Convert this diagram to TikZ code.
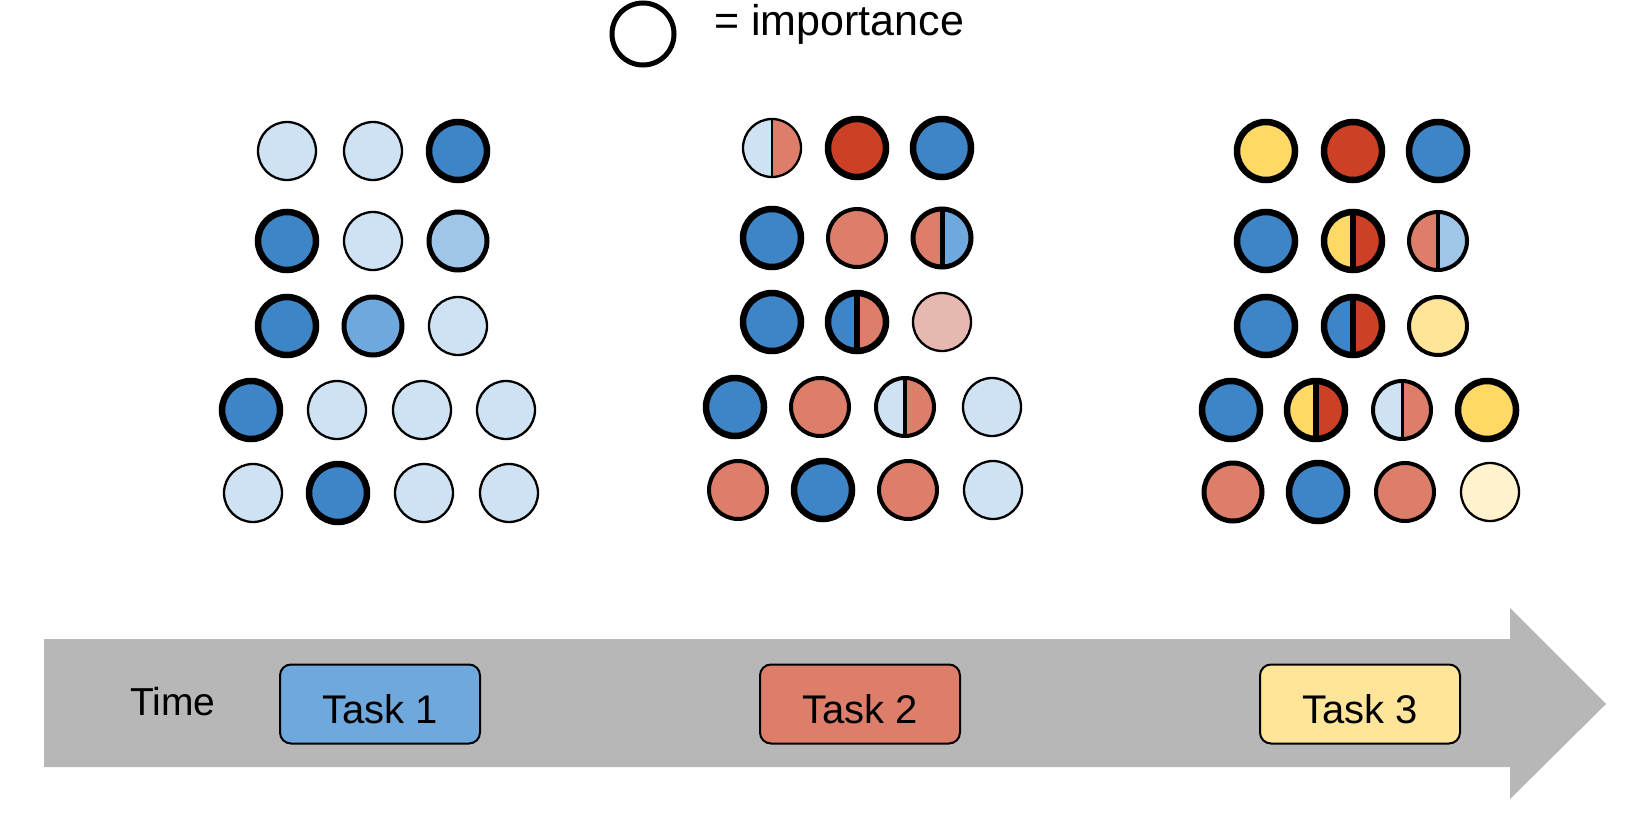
\documentclass[tikz,border=0pt]{standalone}
\usepackage{fontspec}
\setmainfont{Liberation Sans}
\definecolor{lbA}{HTML}{CFE2F3}
\definecolor{lbB}{HTML}{9FC5E8}
\definecolor{lbC}{HTML}{6FA8DC}
\definecolor{bl}{HTML}{3D85C6}
\definecolor{rd}{HTML}{CC4125}
\definecolor{sal}{HTML}{DD7E6B}
\definecolor{lsal}{HTML}{E6B8AF}
\definecolor{yA}{HTML}{FFD966}
\definecolor{yB}{HTML}{FFE599}
\definecolor{yC}{HTML}{FFF2CC}
\definecolor{barg}{HTML}{B7B7B7}
\begin{document}
\begin{tikzpicture}[x=1bp,y=-1bp,
 dot/.style={circle,draw=black,minimum size=58bp,inner sep=0pt},
 wA/.style={line width=2.3bp},
 wB/.style={line width=4bp},
 wC/.style={line width=5bp},
 wD/.style={line width=6.5bp},
 half/.style n args={3}{path picture={
   \fill[#1] (path picture bounding box.south west) rectangle (path picture bounding box.north);
   \fill[#2] (path picture bounding box.north) rectangle (path picture bounding box.south east);
   \draw[line width=#3] (path picture bounding box.north) -- (path picture bounding box.south);}},
 task/.style={draw=black,line width=2bp,rounded corners=11bp,minimum width=200bp,minimum height=79bp,inner sep=0pt,font=\fontsize{40bp}{46bp}\selectfont,text height=39bp,text depth=0bp},
 lbl/.style={font=\fontsize{39bp}{46bp}\selectfont,inner sep=0pt}
]
\useasboundingbox (0,0) rectangle (1630,832);

% legend
\node[circle,draw=black,line width=5bp,minimum size=62bp,inner sep=0pt] (leg) at (643,34) {};
\node[anchor=base west,inner sep=0pt,font=\fontsize{43bp}{50bp}\selectfont] (legt) at (714,35) {= importance};

% group 1
\node[dot,wA,fill=lbA] (a11) at (287,151) {};
\node[dot,wA,fill=lbA] (a12) at (373,151) {};
\node[dot,wD,fill=bl]  (a13) at (458,151) {};
\node[dot,wD,fill=bl]  (a21) at (287,241) {};
\node[dot,wA,fill=lbA] (a22) at (373,241) {};
\node[dot,wC,fill=lbB] (a23) at (458,241) {};
\node[dot,wD,fill=bl]  (a31) at (287,326) {};
\node[dot,wC,fill=lbC] (a32) at (373,326) {};
\node[dot,wA,fill=lbA] (a33) at (458,326) {};
\node[dot,wD,fill=bl]  (a41) at (251,410) {};
\node[dot,wA,fill=lbA] (a42) at (337,410) {};
\node[dot,wA,fill=lbA] (a43) at (422,410) {};
\node[dot,wA,fill=lbA] (a44) at (506,410) {};
\node[dot,wA,fill=lbA] (a51) at (253,493) {};
\node[dot,wD,fill=bl]  (a52) at (338,493) {};
\node[dot,wA,fill=lbA] (a53) at (424,493) {};
\node[dot,wA,fill=lbA] (a54) at (509,493) {};

% group 2
\node[dot,wA,half={lbA}{sal}{2.3bp}] (b11) at (772,148) {};
\node[dot,wD,fill=rd]  (b12) at (857,148) {};
\node[dot,wD,fill=bl]  (b13) at (942,148) {};
\node[dot,wD,fill=bl]  (b21) at (772,238) {};
\node[dot,wB,fill=sal] (b22) at (857,238) {};
\node[dot,wC,half={sal}{lbC}{5bp}] (b23) at (942,238) {};
\node[dot,wD,fill=bl]  (b31) at (772,322) {};
\node[dot,wD,half={bl}{sal}{6.5bp}] (b32) at (857,322) {};
\node[dot,wA,fill=lsal] (b33) at (942,322) {};
\node[dot,wD,fill=bl]  (b41) at (735,407) {};
\node[dot,wB,fill=sal] (b42) at (820,407) {};
\node[dot,wB,half={lbA}{sal}{3.5bp}] (b43) at (905,407) {};
\node[dot,wA,fill=lbA] (b44) at (992,407) {};
\node[dot,wB,fill=sal] (b51) at (738,490) {};
\node[dot,wD,fill=bl]  (b52) at (823,490) {};
\node[dot,wB,fill=sal] (b53) at (908,490) {};
\node[dot,wA,fill=lbA] (b54) at (993,490) {};

% group 3
\node[dot,wD,fill=yA]  (c11) at (1266,151) {};
\node[dot,wD,fill=rd]  (c12) at (1353,151) {};
\node[dot,wD,fill=bl]  (c13) at (1438,151) {};
\node[dot,wD,fill=bl]  (c21) at (1266,241) {};
\node[dot,wD,half={yA}{rd}{6.5bp}] (c22) at (1353,241) {};
\node[dot,wB,half={sal}{lbB}{4bp}] (c23) at (1438,241) {};
\node[dot,wD,fill=bl]  (c31) at (1266,326) {};
\node[dot,wD,half={bl}{rd}{6.5bp}] (c32) at (1353,326) {};
\node[dot,wB,fill=yB]  (c33) at (1438,326) {};
\node[dot,wD,fill=bl]  (c41) at (1231,410) {};
\node[dot,wD,half={yA}{rd}{6.5bp}] (c42) at (1316,410) {};
\node[dot,wB,half={lbA}{sal}{3bp}] (c43) at (1402,410) {};
\node[dot,wD,fill=yA]  (c44) at (1487,410) {};
\node[dot,wC,fill=sal] (c51) at (1233,492) {};
\node[dot,wD,fill=bl]  (c52) at (1318,492) {};
\node[dot,wB,fill=sal] (c53) at (1405,492) {};
\node[dot,wA,fill=yC]  (c54) at (1490,492) {};

% time arrow
\fill[barg] (44,639) -- (1510,639) -- (1510,608) -- (1606,704) -- (1510,799) -- (1510,767) -- (44,767) -- cycle;
\node[lbl,anchor=base] (time) at (173,715) {Time};
\node[task,fill=lbC] (t1) at (380,704) {Task 1};
\node[task,fill=sal] (t2) at (860,704) {Task 2};
\node[task,fill=yB]  (t3) at (1360,704) {Task 3};
\end{tikzpicture}
\end{document}
